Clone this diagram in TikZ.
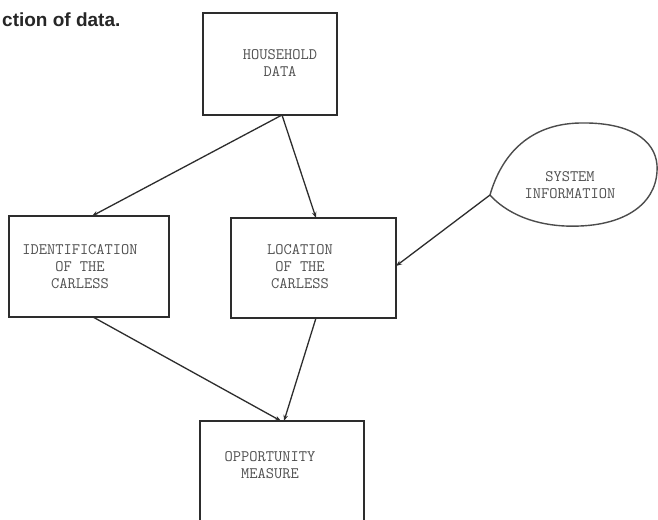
\documentclass[tikz,border=0pt]{standalone}
\usepackage{fontspec}
\newfontfamily\titlefont{Liberation Sans}
\usetikzlibrary{arrows.meta}
\definecolor{ink}{RGB}{45,45,45}
\definecolor{txt}{RGB}{80,80,80}
\tikzset{
  stagebox/.style={draw=ink, line width=1.6pt, inner sep=0pt, outer sep=0pt, rectangle},
  boxtext/.style={text=txt, align=center, inner sep=0pt, font=\fontsize{16}{17}\selectfont\ttfamily},
  flow/.style={draw=ink, line width=1.3pt, -{Stealth[length=6pt,width=4.5pt]}},
  blobline/.style={draw=ink!85, line width=1.4pt}
}
\begin{document}
\begin{tikzpicture}[x=1pt,y=-1pt]
\clip (0,0) rectangle (658,519);
\fill[white] (0,0) rectangle (658,519);
% title fragment
\node[anchor=base west, inner sep=0pt, text=black!85, font=\titlefont\bfseries\fontsize{19}{21}\selectfont] (title) at (2,27) {ction of data.};
% boxes
\node[stagebox, minimum width=134pt, minimum height=102pt] (hh) at (270,64) {};
\node[stagebox, minimum width=160pt, minimum height=101pt] (id) at (89,266.5) {};
\node[stagebox, minimum width=165pt, minimum height=100pt] (loc) at (313.5,268) {};
\node[stagebox, minimum width=164pt, minimum height=120pt] (opp) at (282,481) {};
% texts
\node[boxtext] (hhtext) at (280,63) {HOUSEHOLD\\DATA};
\node[boxtext] (idtext) at (80,267) {IDENTIFICATION\\OF THE\\CARLESS};
\node[boxtext] (loctext) at (300,267) {LOCATION\\OF THE\\CARLESS};
\node[boxtext] (opptext) at (270,465) {OPPORTUNITY\\MEASURE};
% system information blob
\coordinate (sys) at (490,195);
\draw[blobline] (sys) .. controls (500,160) and (525,124) .. (580,123)
  .. controls (630,122) and (655,140) .. (657,165)
  .. controls (659,200) and (630,224) .. (580,226)
  .. controls (535,228) and (505,212) .. (sys);
\node[boxtext] (systext) at (570,185) {SYSTEM\\INFORMATION};
% connectors
\coordinate (hhout) at ([xshift=12pt]hh.south);
\draw[flow] (hhout) -- ([xshift=3pt]id.north);
\draw[flow] (hhout) -- ([xshift=2.5pt]loc.north);
\draw[flow] (sys) -- ([yshift=2pt]loc.east);
\draw[flow] ([xshift=4pt]id.south) -- ([xshift=-1pt]opp.north);
\draw[flow] ([xshift=2.5pt]loc.south) -- ([xshift=2pt]opp.north);
\end{tikzpicture}
\end{document}
